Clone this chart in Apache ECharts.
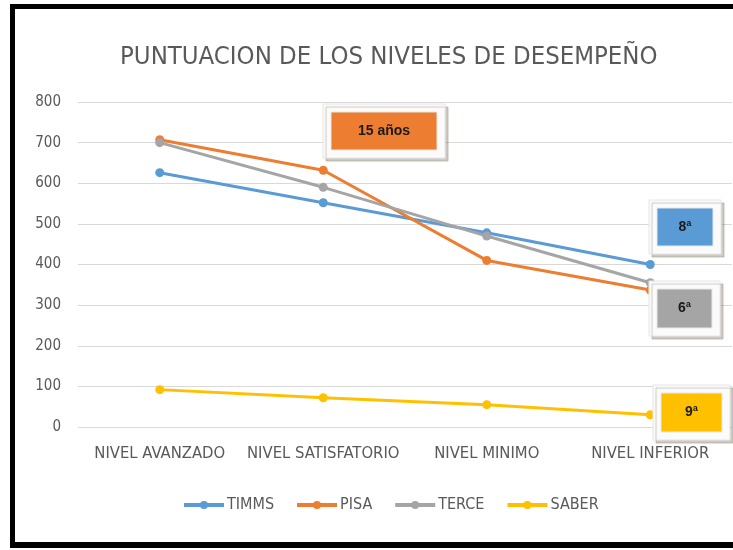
<!DOCTYPE html>
<html>
<head>
<meta charset="utf-8">
<script src="https://cdn.jsdelivr.net/npm/echarts@6/dist/echarts.min.js"></script>
<style>
  html, body { margin: 0; padding: 0; background: #fff; }
  .frame {
    position: absolute; left: 10px; top: 4px; width: 740px; height: 544px;
    border-left: 5px solid #000; border-top: 5px solid #000; border-bottom: 6px solid #000;
    box-sizing: border-box;
  }
  #chart { position: absolute; left: 0; top: 0; width: 733px; height: 550px; }
</style>
</head>
<body>
<div class="frame"></div>
<div id="chart"></div>
<script>
  // datos
  const categories = ['NIVEL AVANZADO', 'NIVEL SATISFATORIO', 'NIVEL MINIMO', 'NIVEL INFERIOR'];
  const timms = [626, 552, 478, 400];
  const pisa = [707, 632, 410, 337];
  const terce = [700, 590, 470, 355];
  const saber = [92, 72, 55, 30];
  const seriesNames = ['TIMMS', 'PISA', 'TERCE', 'SABER'];
  const colors = ['#5B9BD5', '#ED7D31', '#A5A5A5', '#FFC000'];

  const font = "'Liberation Sans Narrow', 'DejaVu Sans Condensed', sans-serif";

  // cajas de anotacion: [texto, color, x, y, ancho, alto]
  const notes = [
    ['15 años', '#ED7D31', 331, 112, 106, 38],
    ['8ª', '#5B9BD5', 657, 208, 56, 38],
    ['6ª', '#A5A5A5', 657, 289, 55, 39],
    ['9ª', '#FFC000', 661, 393, 61, 39]
  ];

  function noteGraphics() {
    let out = [];
    notes.forEach(n => {
      out.push({
        type: 'rect', z: 100,
        shape: { x: n[2] - 8, y: n[3] - 8, width: n[4] + 16, height: n[5] + 16 },
        style: { fill: '#fbfbfb', stroke: '#e6e6e6', lineWidth: 1,
          shadowColor: 'rgba(120,110,90,0.35)', shadowBlur: 1, shadowOffsetX: 3, shadowOffsetY: 3 }
      });
      out.push({
        type: 'rect', z: 101,
        shape: { x: n[2], y: n[3], width: n[4], height: n[5] },
        style: { fill: n[1], stroke: '#e8e8e8', lineWidth: 1 }
      });
      out.push({
        type: 'text', z: 102,
        x: n[2] + n[4] / 2, y: n[3] + n[5] / 2,
        style: { text: n[0], fill: '#1a1a1a', font: 'bold 14px Arial, sans-serif',
          align: 'center', verticalAlign: 'middle' }
      });
    });
    return out;
  }

  let myChart = echarts.init(document.getElementById('chart'));
  let option = {
    animation: false,
    color: colors,
    title: {
      text: 'PUNTUACION DE LOS NIVELES DE DESEMPEÑO',
      left: 115,
      top: 39,
      textStyle: { fontFamily: font, fontSize: 25.5, fontWeight: 'normal', color: '#595959' }
    },
    legend: {
      data: seriesNames,
      left: 177,
      top: 492,
      itemWidth: 40,
      itemHeight: 10,
      itemGap: 21,
      lineStyle: { width: 4 },
      textStyle: { fontFamily: font, fontSize: 16, color: '#595959', padding: [0, 0, 0, -2] }
    },
    grid: { left: 78, right: 1, top: 102, bottom: 123 },
    xAxis: {
      type: 'category',
      data: categories,
      axisLine: { show: false },
      axisTick: { show: false },
      axisLabel: { interval: 0, fontFamily: font, fontSize: 16.5, color: '#595959', margin: 18 }
    },
    yAxis: {
      type: 'value',
      min: 0, max: 800, interval: 100,
      axisLabel: { fontFamily: font, fontSize: 15, color: '#595959', margin: 17 },
      splitLine: { lineStyle: { color: '#d9d9d9', width: 1 } }
    },
    series: [
      { name: 'TIMMS', type: 'line', data: timms },
      { name: 'PISA', type: 'line', data: pisa },
      { name: 'TERCE', type: 'line', data: terce },
      { name: 'SABER', type: 'line', data: saber }
    ].map(s => Object.assign(s, {
      symbol: 'circle', symbolSize: 9,
      lineStyle: { width: 3 }
    })),
    graphic: noteGraphics()
  };
  myChart.setOption(option);
</script>
</body>
</html>
